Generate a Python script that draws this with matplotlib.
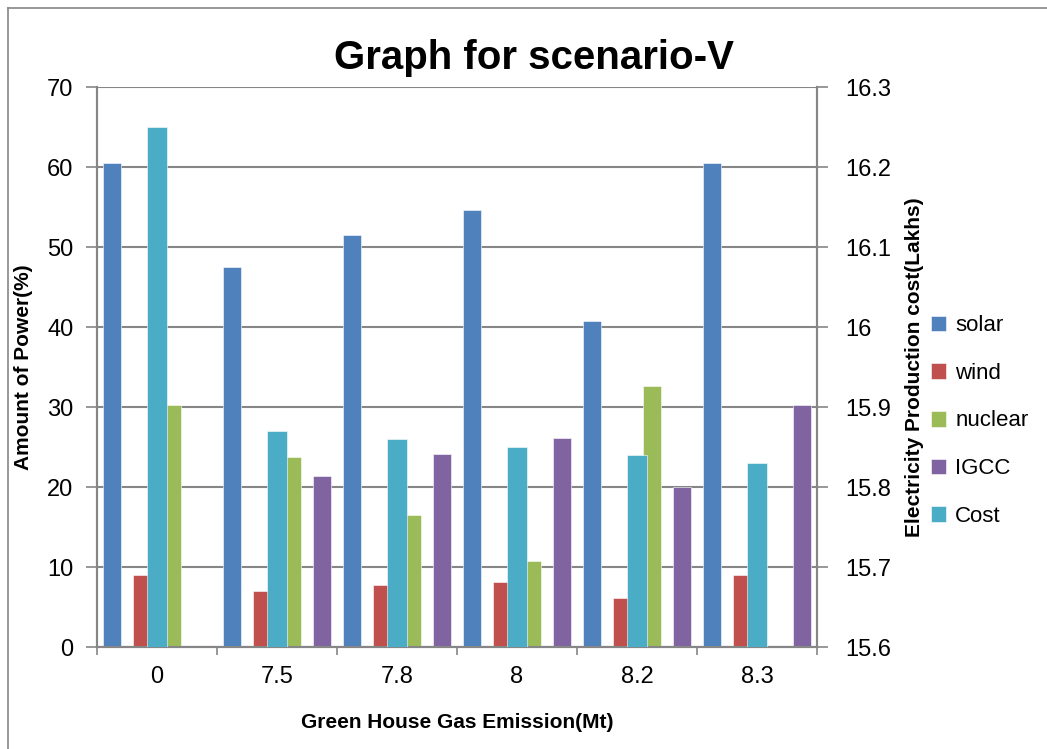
import numpy as np
import matplotlib
matplotlib.use("Agg")
import matplotlib.pyplot as plt
from matplotlib.lines import Line2D

plt.rcParams['font.family'] = ['Liberation Sans Narrow', 'Liberation Sans', 'DejaVu Sans']

# data
emission = ['0', '7.5', '7.8', '8', '8.2', '8.3']
solar = [60.5, 47.5, 51.5, 54.6, 40.8, 60.5]
wind = [9.0, 7.0, 7.7, 8.1, 6.1, 9.0]
nuclear = [30.3, 23.7, 16.5, 10.8, 32.6, 0]
igcc = [0, 21.4, 24.1, 26.1, 20.0, 30.3]
cost = [16.25, 15.87, 15.86, 15.85, 15.84, 15.83]

colors = {'solar': '#4F81BD', 'wind': '#C0504D', 'nuclear': '#9BBB59',
          'IGCC': '#8064A2', 'Cost': '#4BACC6'}
grid_col = '#868686'

fig = plt.figure(figsize=(10.47, 7.49), dpi=100)
ax = fig.add_axes([97 / 1047, 1 - 647 / 749, 720 / 1047, 560 / 749])
ax2 = ax.twinx()

x = np.arange(len(emission))
w = 0.146
primary = [('solar', solar, -0.375), ('wind', wind, -0.125),
           ('nuclear', nuclear, 0.125), ('IGCC', igcc, 0.375)]
handles = []
for name, vals, off in primary:
    b = ax.bar(x + off, vals, w, color=colors[name], edgecolor='white',
               linewidth=0.4, label=name, zorder=3)
    handles.append(b)
bc = ax2.bar(x, cost, 0.165, color=colors['Cost'], edgecolor='white',
             linewidth=0.4, label='Cost', zorder=3)
handles.append(bc)

ax.set_xlim(-0.5, len(emission) - 0.5)
ax.set_ylim(0, 70)
ax.set_yticks(np.arange(0, 71, 10))
ax2.set_ylim(15.6, 16.3)
ax2.set_yticks([15.6, 15.7, 15.8, 15.9, 16.0, 16.1, 16.2, 16.3])
ax2.set_yticklabels(['15.6', '15.7', '15.8', '15.9', '16', '16.1', '16.2', '16.3'])

ax.set_axisbelow(True)
ax.yaxis.grid(True, color=grid_col, linewidth=1.5)
ax.set_xticks(x)
ax.set_xticklabels(emission)
ax.set_xticks(np.arange(-0.5, len(emission)), minor=True)
ax.tick_params(axis='x', which='major', length=0, pad=14, labelsize=17)
ax.tick_params(axis='x', which='minor', length=6, color=grid_col, width=1.2)
ax.tick_params(axis='y', length=8, color=grid_col, width=1.2, labelsize=17, pad=9)
ax2.tick_params(axis='y', length=8, color=grid_col, width=1.2, labelsize=17, pad=12)

for a in (ax, ax2):
    for s in a.spines.values():
        s.set_color(grid_col)
        s.set_linewidth(1.5)
    a.spines['top'].set_visible(False)

ax.set_ylabel('Amount of Power(%)', fontsize=15, fontweight='bold', labelpad=10)
ax2.set_ylabel('Electricity Production cost(Lakhs)', fontsize=15, fontweight='bold', labelpad=10)
ax.set_xlabel('Green House Gas Emission(Mt)', fontsize=15, fontweight='bold', labelpad=18)
fig.text(534 / 1047, 1 - 58 / 749, 'Graph for scenario-V', fontsize=29,
         fontweight='bold', ha='center', va='center')

fig.legend(handles=handles, labels=['solar', 'wind', 'nuclear', 'IGCC', 'Cost'],
           loc='center left', bbox_to_anchor=(922 / 1047, 1 - 421 / 749),
           frameon=False, fontsize=16, handlelength=0.7, handleheight=0.7,
           handletextpad=0.4, labelspacing=1.2, borderaxespad=0)

# outer chart border (only left and top edges show)
fig.add_artist(Line2D([8 / 1047, 8 / 1047], [0, 1 - 8 / 749], color=grid_col,
                      linewidth=1.2, transform=fig.transFigure))
fig.add_artist(Line2D([8 / 1047, 1], [1 - 8 / 749, 1 - 8 / 749], color=grid_col,
                      linewidth=1.2, transform=fig.transFigure))

fig.savefig('out.png', dpi=100)
